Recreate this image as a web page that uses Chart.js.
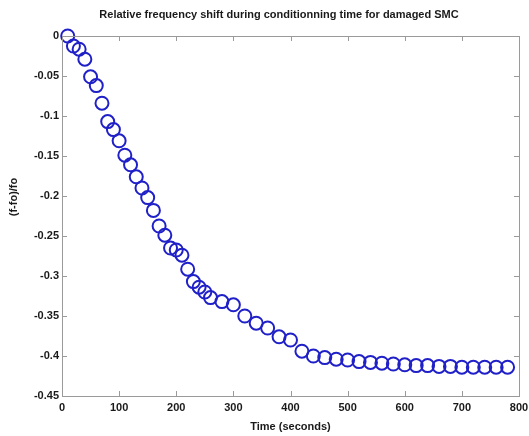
<!DOCTYPE html>
<html>
<head>
<meta charset="utf-8">
<script src="https://cdn.jsdelivr.net/npm/chart.js@4/dist/chart.umd.min.js"></script>
<style>
  html, body { margin: 0; padding: 0; background: #fff; }
  #wrap { width: 529px; height: 436px; }
</style>
</head>
<body>
<div id="wrap"><canvas id="freqChart" width="529" height="436"></canvas></div>
<script>
var chartTitle = "Relative frequency shift during conditionning time for damaged SMC";
var xLabel = "Time (seconds)";
var yLabel = "(f-fo)/fo";

// time (s) and relative shift
var times = [10, 20, 30, 40, 50, 60, 70, 80, 90, 100,
  110, 120, 130, 140, 150, 160, 170, 180, 190, 200,
  210, 220, 230, 240, 250, 260, 280, 300, 320, 340,
  360, 380, 400, 420, 440, 460, 480, 500, 520, 540,
  560, 580, 600, 620, 640, 660, 680, 700, 720, 740, 760, 780];
var shift = [0, -0.0125, -0.0165, -0.029, -0.051, -0.062, -0.084, -0.107, -0.117, -0.131,
  -0.149, -0.161, -0.176, -0.19, -0.202, -0.218, -0.2375, -0.249, -0.265, -0.2675,
  -0.274, -0.2915, -0.307, -0.314, -0.32, -0.327, -0.332, -0.336, -0.35, -0.359,
  -0.365, -0.376, -0.38, -0.394, -0.4, -0.402, -0.404, -0.405, -0.407, -0.408,
  -0.409, -0.41, -0.411, -0.412, -0.412, -0.413, -0.413, -0.414, -0.414, -0.414, -0.414, -0.414];

var xTicks = [0, 100, 200, 300, 400, 500, 600, 700, 800];
var yTicks = [0, -0.05, -0.1, -0.15, -0.2, -0.25, -0.3, -0.35, -0.4, -0.45];

var points = [];
for (var i = 0; i < times.length; i++) {
  points.push({ x: times[i], y: shift[i] });
}

// matlab style box, inward ticks, titles
var matlabBox = {
  id: 'matlabBox',
  afterDraw: function(chart) {
    var ctx = chart.ctx;
    var a = chart.chartArea;
    var xs = chart.scales.x, ys = chart.scales.y;
    ctx.save();
    ctx.strokeStyle = '#9a9a9a';
    ctx.lineWidth = 1;
    ctx.strokeRect(a.left + 0.5, a.top + 0.5, a.right - a.left, a.bottom - a.top);
    ctx.beginPath();
    xTicks.forEach(function(t) {
      var px = Math.round(xs.getPixelForValue(t)) + 0.5;
      ctx.moveTo(px, a.bottom); ctx.lineTo(px, a.bottom - 5);
      ctx.moveTo(px, a.top); ctx.lineTo(px, a.top + 5);
    });
    yTicks.forEach(function(t) {
      var py = Math.round(ys.getPixelForValue(t)) + 0.5;
      ctx.moveTo(a.left, py); ctx.lineTo(a.left + 5, py);
      ctx.moveTo(a.right, py); ctx.lineTo(a.right - 5, py);
    });
    ctx.stroke();

    ctx.fillStyle = '#1a1a1a';
    ctx.font = 'bold 11px "Liberation Sans", Arial, sans-serif';
    ctx.textAlign = 'center';
    ctx.textBaseline = 'middle';
    ctx.fillText(chartTitle, 279, 15);
    ctx.fillText(xLabel, (a.left + a.right) / 2, 427);
    ctx.translate(14, 197);
    ctx.rotate(-Math.PI / 2);
    ctx.fillText(yLabel, 0, 0);
    ctx.restore();
  }
};

var chartJs = new Chart(document.getElementById("freqChart"), {
  type: 'scatter',
  data: {
    datasets: [
      {
        label: "(f-fo)/fo",
        data: points,
        showLine: false,
        clip: false,
        pointStyle: 'circle',
        pointRadius: 6.5,
        pointHoverRadius: 6.5,
        pointBorderWidth: 2,
        borderColor: 'rgb(32,32,200)',
        backgroundColor: 'rgba(0,0,0,0)'
      }
    ]
  },
  options: {
    responsive: false,
    animation: false,
    events: [],
    layout: { padding: { top: 36, right: 10, left: 0, bottom: 0 } },
    plugins: {
      legend: { display: false },
      title: { display: false },
      tooltip: { enabled: false }
    },
    scales: {
      x: {
        type: 'linear',
        min: 0,
        max: 800,
        afterFit: function(s) { s.height = 40; s.paddingLeft = 0; s.paddingRight = 0; },
        afterBuildTicks: function(s) { s.ticks = xTicks.map(function(v) { return { value: v }; }); },
        grid: { display: false, drawTicks: false },
        border: { display: false },
        ticks: {
          padding: 5,
          color: '#1a1a1a',
          font: { family: '"Liberation Sans", Arial, sans-serif', size: 11, weight: 'bold' },
          maxRotation: 0,
          callback: function(v) { return String(v); }
        }
      },
      y: {
        type: 'linear',
        min: -0.45,
        max: 0,
        afterFit: function(s) { s.width = 62; s.paddingTop = 0; s.paddingBottom = 0; },
        afterBuildTicks: function(s) { s.ticks = yTicks.map(function(v) { return { value: v }; }); },
        grid: { display: false, drawTicks: false },
        border: { display: false },
        ticks: {
          padding: 3,
          color: '#1a1a1a',
          font: { family: '"Liberation Sans", Arial, sans-serif', size: 11, weight: 'bold' },
          callback: function(v) { return String(+v.toFixed(2)); }
        }
      }
    }
  },
  plugins: [matlabBox]
});
</script>
</body>
</html>
